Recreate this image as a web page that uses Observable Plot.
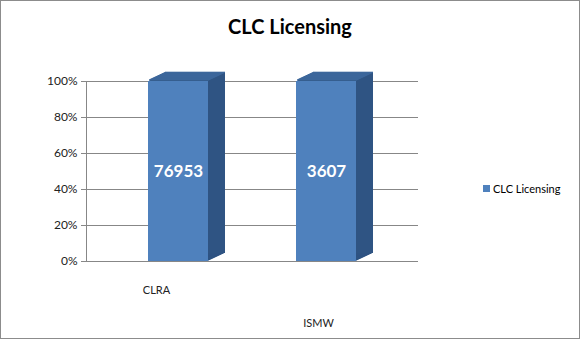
<!DOCTYPE html>
<html><head><meta charset="utf-8">
<script src="https://cdn.jsdelivr.net/npm/d3@7"></script>
<script src="https://cdn.jsdelivr.net/npm/@observablehq/plot@0.6"></script>
<style>
html,body{margin:0;padding:0;background:#fff;}
#chart{position:relative;width:580px;height:339px;box-sizing:border-box;border:1px solid #8c8c8c;font-family:Lato,sans-serif;overflow:hidden;background:#fff;}
#title{position:absolute;left:0;width:100%;top:13px;text-align:center;font-weight:bold;font-size:20px;color:#000;}
#plot{position:absolute;left:-1px;top:-1px;}
#legend{position:absolute;left:482px;top:181px;font-size:11px;display:flex;align-items:center;color:#000;}
#legend .sw{display:inline-block;width:7px;height:7px;background:#4f81bd;margin-right:3px;}
</style></head><body>
<div id="chart"><div id="plot"></div><div id="title">CLC Licensing</div><div id="legend"><span class="sw"></span><span id="legtext"></span></div></div>
<script>
const categories = ["CLRA", "ISMW"];
const counts = [76953, 3607];
const shares = [1, 1];               // single series, 100% stacked
const yTicks = [0, 0.2, 0.4, 0.6, 0.8, 1];
const seriesName = "CLC Licensing";

const data = categories.map((c, i) => ({category: c, count: counts[i], share: shares[i]}));
document.getElementById("legtext").textContent = seriesName;

const frontColor = "#4f81bd", sideColor = "#2f5483", topColor = "#3d679b", gridColor = "#878787";
const depth = 17, rise = 8 / 17;
const layers = d3.range(1, depth + 1);

const chart = Plot.plot({
  width: 470, height: 339,
  marginLeft: 86, marginRight: 52, marginTop: 81, marginBottom: 78,
  style: {fontFamily: "Lato, sans-serif", fontSize: "12px", color: "#222", background: "transparent"},
  x: {domain: categories, paddingInner: 0.597, paddingOuter: 0.416},
  y: {domain: [0, 1]},
  marks: [
    Plot.gridY(yTicks, {stroke: gridColor, strokeOpacity: 1}),
    Plot.frame({anchor: "left", stroke: gridColor}),
    Plot.axisY(yTicks, {tickFormat: d3.format(".0%"), tickSize: 5, stroke: gridColor, label: null, tickPadding: 4}),
    Plot.axisX(["CLRA"], {tickSize: 0, dy: 16, dx: -22, label: null, fontSize: 11}),
    Plot.axisX(["ISMW"], {tickSize: 0, dy: 49, dx: -8, label: null, fontSize: 11}),
    ...layers.map(k => Plot.barY(data, {x: "category", y: "share", fill: sideColor, dx: k, dy: -k * rise})),
    ...layers.map(k => Plot.barY(data, {x: "category", y1: "share", y2: "share", insetTop: -1.3, fill: topColor, dx: k, dy: -k * rise})),
    Plot.barY(data, {x: "category", y: "share", fill: frontColor}),
    Plot.text(data, {x: "category", y: d => d.share / 2, text: d => d3.format("d")(d.count), fill: "white", fontWeight: "bold", fontSize: 17})
  ]
});
document.getElementById("plot").appendChild(chart);
</script>
</body></html>
